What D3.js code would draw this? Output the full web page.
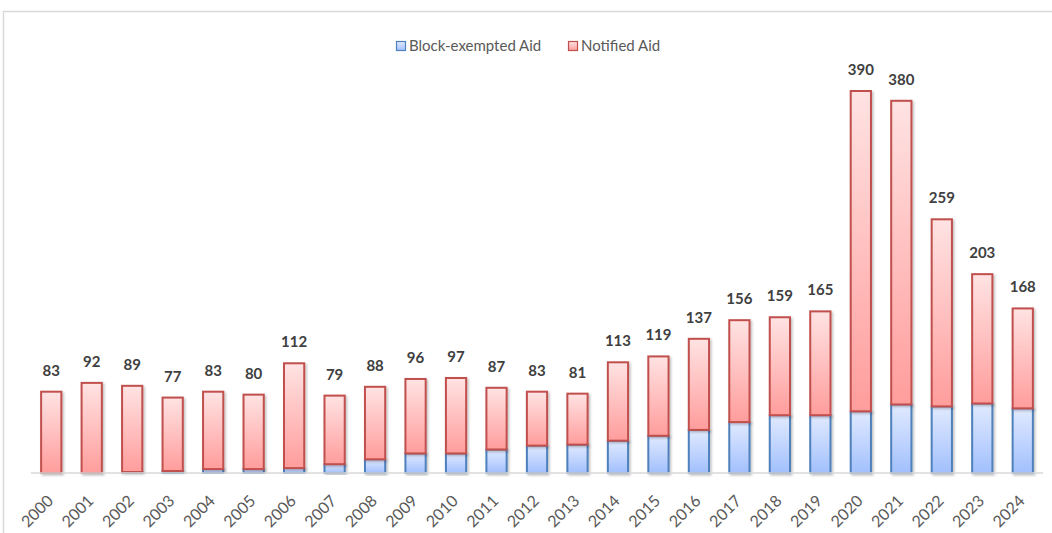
<!DOCTYPE html>
<html>
<head>
<meta charset="utf-8">
<title>State aid cases</title>
<style>
  body { margin: 0; background: #fff; }
  svg text { font-family: Lato, "Open Sans", sans-serif; }
</style>
</head>
<body>
<svg></svg>
<script src="https://d3js.org/d3.v7.min.js"></script>
<script>
var years = ['2000','2001','2002','2003','2004','2005','2006','2007','2008','2009','2010','2011','2012',
             '2013','2014','2015','2016','2017','2018','2019','2020','2021','2022','2023','2024'];
var totals = [83, 92, 89, 77, 83, 80, 112, 79, 88, 96, 97, 87, 83, 81, 113, 119, 137, 156, 159, 165, 390, 380, 259, 203, 168];
var blockExempted = [0, 0, 1, 2, 4, 4, 5, 9, 14, 20, 20, 24, 28, 29, 33, 38, 44, 52, 59, 59, 63, 70, 68, 71, 66];
var notified = totals.map((t, i) => t - blockExempted[i]);
var seriesNames = ['Block-exempted Aid', 'Notified Aid'];

var width = 1052, height = 533;
var left = 31, right = 1043, baseline = 473;

var svg = d3.select('svg').attr('width', width).attr('height', height);

var defs = svg.append('defs');
function grad(id, top, bottom) {
    var g = defs.append('linearGradient').attr('id', id)
        .attr('x1', 0).attr('y1', 0).attr('x2', 0).attr('y2', 1);
    g.append('stop').attr('offset', '0%').attr('stop-color', top);
    g.append('stop').attr('offset', '100%').attr('stop-color', bottom);
}
grad('gRed', '#ffe3e3', '#ff9d9c');
grad('gBlue', '#e1eaff', '#a2c0fd');
var sh = defs.append('filter').attr('id', 'shadow').attr('x', '-20%').attr('y', '-5%').attr('width', '150%').attr('height', '120%');
sh.append('feDropShadow').attr('dx', 1.5).attr('dy', 1.5).attr('stdDeviation', 1.2).attr('flood-color', '#000').attr('flood-opacity', 0.25);

// chart border
svg.append('rect').attr('x', 3.5).attr('y', 11.5).attr('width', 1060).attr('height', 540)
    .attr('fill', 'none').attr('stroke', '#d9d9d9').attr('stroke-width', 1.5);

var x = d3.scaleBand().domain(years).range([left, right]).paddingInner(0.5).paddingOuter(0.25);
var y = d3.scaleLinear().domain([0, 390]).range([baseline, baseline - 382]);

var stack = d3.stack().keys([0, 1]).value((d, k) => k === 0 ? blockExempted[d] : notified[d]);
var stacked = stack(d3.range(years.length));
var fills = ['url(#gBlue)', 'url(#gRed)'];
var strokes = ['#4f81bd', '#c0504d'];

var g = svg.append('g');
stacked.forEach(function (layer, k) {
    g.append('g').selectAll('rect')
        .data(layer.filter(d => d[1] - d[0] > 0))
        .join('rect')
        .attr('x', d => x(years[d.data]))
        .attr('y', d => y(d[1]))
        .attr('width', x.bandwidth())
        .attr('height', d => y(d[0]) - y(d[1]))
        .attr('fill', fills[k])
        .attr('stroke', strokes[k])
        .attr('stroke-width', 2)
        .attr('filter', 'url(#shadow)');
});

// axis
var xAxis = svg.append('g').attr('transform', `translate(0,${baseline})`)
    .call(d3.axisBottom(x).tickSize(0).tickPadding(0));
xAxis.select('.domain').attr('stroke', '#d9d9d9').attr('stroke-width', 1.5)
    .attr('d', `M${left},0H${right}`);
xAxis.selectAll('text')
    .attr('font-size', 16).attr('fill', '#595959')
    .attr('text-anchor', 'end')
    .attr('y', 0).attr('dy', '0.35em')
    .attr('transform', 'translate(-1,25) rotate(-45)');

// total labels
svg.append('g').selectAll('text')
    .data(totals)
    .join('text')
    .attr('x', (d, i) => x(years[i]) + x.bandwidth() / 2)
    .attr('y', d => y(d) - 16)
    .attr('text-anchor', 'middle')
    .attr('font-size', 15).attr('font-weight', 'bold').attr('fill', '#404040')
    .text(d => d);

// legend
var legend = svg.append('g').attr('transform', 'translate(396,46)');
var lx = [0, 172];
seriesNames.forEach(function (name, k) {
    var item = legend.append('g').attr('transform', `translate(${lx[k]},0)`);
    item.append('rect').attr('x', 0.5).attr('y', -4.5).attr('width', 9).attr('height', 9)
        .attr('fill', fills[k]).attr('stroke', strokes[k]).attr('stroke-width', 1.2);
    item.append('text').attr('x', 13).attr('y', 0).attr('dy', '0.35em')
        .attr('font-size', 15).attr('fill', '#595959').text(name);
});
</script>
</body>
</html>
